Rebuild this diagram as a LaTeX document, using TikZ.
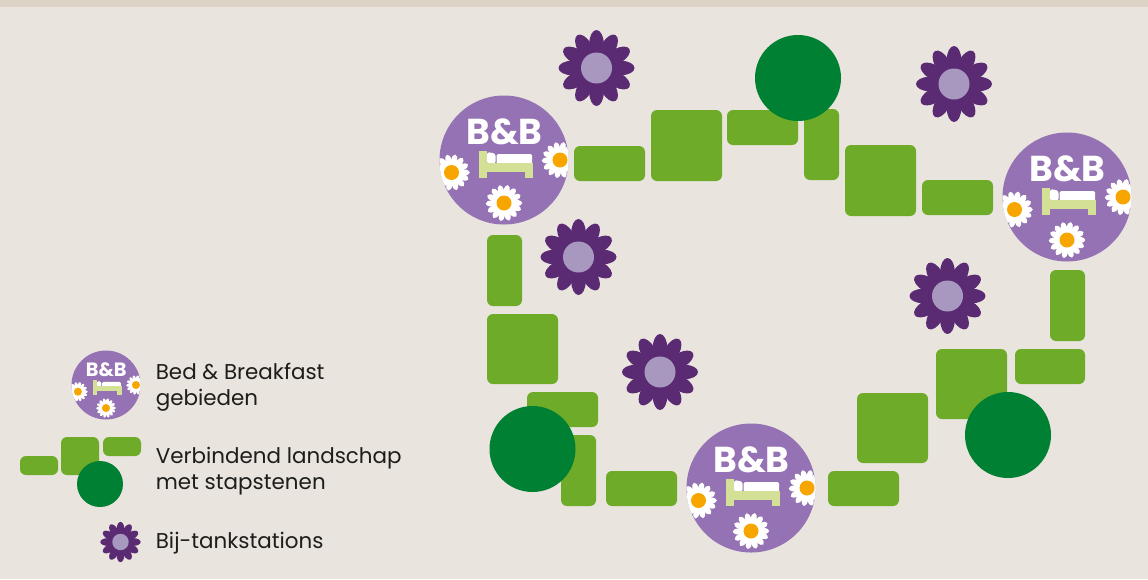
\documentclass[tikz,border=0pt]{standalone}
\usepackage{fontspec}
\setmainfont{Poppins}
\usepackage{xcolor}

\definecolor{paper}{HTML}{E9E4DD}
\definecolor{paperband}{HTML}{DDD3C6}
\definecolor{stonegreen}{HTML}{6EAB28}
\definecolor{stepgreen}{HTML}{008033}
\definecolor{bnbpurple}{HTML}{9572B3}
\definecolor{beepurple}{HTML}{5A2A73}
\definecolor{beecentre}{HTML}{A898C0}
\definecolor{bedgreen}{HTML}{D3E096}
\definecolor{daisyorange}{HTML}{F7A600}
\definecolor{labelgrey}{HTML}{1D1D1B}

\tikzset{
    stone/.style={fill=stonegreen, rounded corners=0.12cm},
    stepping/.style={fill=stepgreen},
    legendtext/.style={anchor=west, align=left, text=labelgrey, inner sep=0pt, font=\fontsize{12.2}{14.6}\selectfont}
}

% Bee filling station: 12 petals with a pale heart
\newcommand{\tankstation}[3]{
    \begin{scope}[shift={(#1,#2)}, scale=#3]
        \foreach \a in {0,30,...,330} {
            \fill[beepurple, rotate=\a] (24.5,0) ellipse [x radius=13.5, y radius=7.2];
        }
        \fill[beepurple] (0,0) circle (27);
        \fill[beecentre] (0,0) circle (15.5);
    \end{scope}
}

% One daisy, centred on the current origin
\newcommand{\daisy}[2]{
    \begin{scope}[shift={(#1,#2)}]
        \foreach \a in {0,26,...,340} {
            \fill[white, rotate=\a] (12.5,0) ellipse [x radius=5.8, y radius=3];
        }
        \fill[white] (0,0) circle (13);
        \fill[daisyorange] (0,0) circle (7.5);
    \end{scope}
}

% Bed & Breakfast disc: #1,#2 centre, #3 scale, #4 name
\newcommand{\bedbreakfast}[4]{
    \begin{scope}[shift={(#1,#2)}, scale=#3, transform shape]
        \fill[bnbpurple] (0,0) circle (64.5);
        \begin{scope}
            \clip (0,0) circle (64.5);
            \daisy{-52.5}{12.5}
            \daisy{56}{0}
            \daisy{0}{43}
        \end{scope}
        \node[text=white, inner sep=0pt, font=\fontsize{20.5}{20.5}\selectfont\bfseries] (#4) at (0.5,-28) {B\&B};
        % the bed
        \fill[white, rounded corners=0.03cm] (-7.5,-6) rectangle (28,4);
        \fill[white, rounded corners=0.05cm] (-17,4) -- (-17,-8) -- (-8.5,-6.5) -- (-8.5,4) -- cycle;
        \fill[bedgreen] (-25,-9) rectangle (-17.5,18);
        \fill[bedgreen] (-25,2.7) rectangle (29,11.7);
        \fill[bedgreen] (21,2.7) rectangle (29,18);
    \end{scope}
}

\begin{document}
\begin{tikzpicture}[x=0.02cm, y=-0.02cm]

    \useasboundingbox (0,0) rectangle (1148,579);

    % Paper background
    \fill[paper] (0,0) rectangle (1148,579);
    \fill[paperband] (0,0) rectangle (1148,7);

    % Stones, top route
    \fill[stone] (574,146) rectangle ++(71,35);
    \fill[stone] (651,110) rectangle ++(71,71);
    \fill[stone] (727,110) rectangle ++(71,35);
    \fill[stone] (804,109) rectangle ++(35,71);
    \fill[stone] (845,145) rectangle ++(71,71);
    \fill[stone] (922,180) rectangle ++(71,35);

    % Stones, right route
    \fill[stone] (1050,270) rectangle ++(35,71);
    \fill[stone] (1015,349) rectangle ++(70,35);
    \fill[stone] (936,349) rectangle ++(71,70);
    \fill[stone] (857,393) rectangle ++(71,70);
    \fill[stone] (828,471) rectangle ++(71,35);

    % Stones, left route
    \fill[stone] (606,471) rectangle ++(71,35);
    \fill[stone] (561,435) rectangle ++(35,71);
    \fill[stone] (527,392) rectangle ++(71,35);
    \fill[stone] (487,314) rectangle ++(71,70);
    \fill[stone] (487,235) rectangle ++(35,71);

    % Stepping stones
    \fill[stepping] (798,78) circle (43);
    \fill[stepping] (1008,435) circle (43);
    \fill[stepping] (532.5,449) circle (43);

    % B&B areas
    \bedbreakfast{504}{160}{1}{bnbwest}
    \bedbreakfast{1067}{197}{1}{bnbeast}
    \bedbreakfast{751}{488}{1}{bnbsouth}

    % Filling stations
    \tankstation{596.5}{68}{1}
    \tankstation{954}{84}{1}
    \tankstation{578.5}{257}{1}
    \tankstation{947.5}{296}{1}
    \tankstation{660}{372}{1}

    % Legend
    \bedbreakfast{106}{385}{0.535}{bnblegend}
    \fill[stone] (20,456) rectangle ++(38,19);
    \fill[stone] (61,437) rectangle ++(38,38);
    \fill[stone] (103,437) rectangle ++(38,19);
    \fill[stepping] (100,484) circle (23);
    \tankstation{120.5}{542}{0.53}

    \node[legendtext] (bnblabel) at (155.5,387) {Bed \& Breakfast\\gebieden};
    \node[legendtext] (landlabel) at (155.5,471) {Verbindend landschap\\met stapstenen};
    \node[legendtext] (beelabel) at (155.5,543) {Bij-tankstations};

\end{tikzpicture}
\end{document}
